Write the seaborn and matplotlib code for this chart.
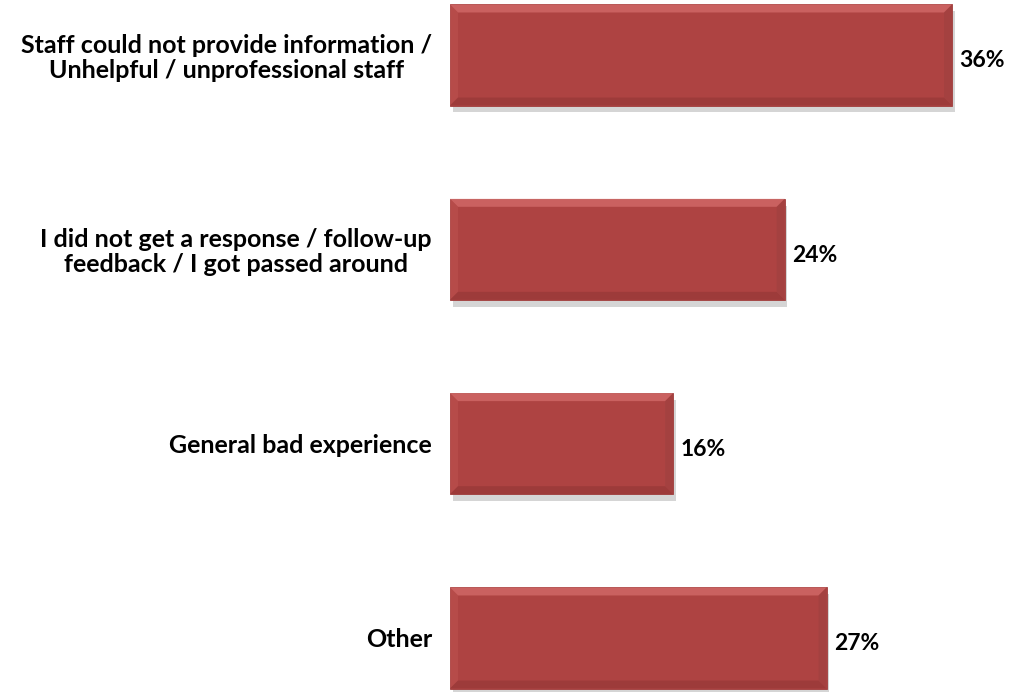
import matplotlib
matplotlib.use("Agg")
import matplotlib.pyplot as plt
import matplotlib.patheffects as pe
from matplotlib.patches import Polygon
import seaborn as sns
import pandas as pd

categories = [
    "Staff could not provide information /\nUnhelpful / unprofessional staff",
    "I did not get a response / follow-up\nfeedback / I got passed around",
    "General bad experience",
    "Other",
]
values = [36, 24, 16, 27]
value_labels = ["36%", "24%", "16%", "27%"]

df = pd.DataFrame({"category": categories, "value": values})

sns.set_theme(style="white")
plt.rcParams["font.family"] = ["Lato", "DejaVu Sans"]

fig = plt.figure(figsize=(10.18, 6.92), dpi=100)
ax = fig.add_axes([450 / 1018, 0.0, 1 - 450 / 1018, 1.0])

bar_color = "#AE4342"
sns.barplot(data=df, x="value", y="category", orient="h", color=bar_color,
            saturation=1, width=0.52, ax=ax, edgecolor="#A03D3C", linewidth=0.6)

ax.set_xlim(0, (1018 - 450) / (502 / 36))
ax.set_ylim(3.278, -0.283)

# bevelled edges and soft drop shadow
px_x = 36 / 502.0
px_y = 1 / 194.3
bx, by = 8 * px_x, 8 * px_y
for p in ax.patches:
    p.set_path_effects([pe.SimplePatchShadow(offset=(2, -5), shadow_rgbFace="#777777", alpha=0.3),
                        pe.Normal()])
    x0, y0 = p.get_x(), p.get_y()
    x1, y1 = x0 + p.get_width(), y0 + p.get_height()
    top = [(x0, y0), (x1, y0), (x1 - bx, y0 + by), (x0 + bx, y0 + by)]
    left = [(x0, y0), (x0 + bx, y0 + by), (x0 + bx, y1 - by), (x0, y1)]
    bottom = [(x0, y1), (x0 + bx, y1 - by), (x1 - bx, y1 - by), (x1, y1)]
    right = [(x1, y0), (x1, y1), (x1 - bx, y1 - by), (x1 - bx, y0 + by)]
    for pts, col, a in [(top, "#E27B79", 0.55), (left, "#C05553", 0.45),
                        (bottom, "#85302F", 0.4), (right, "#93403F", 0.35)]:
        ax.add_patch(Polygon(pts, closed=True, facecolor=col, edgecolor="none",
                             alpha=a, zorder=3))

for i, (v, lab) in enumerate(zip(values, value_labels)):
    ax.text(v + 0.55, i + 0.03, lab, ha="left", va="center",
            fontsize=16.5, fontweight="bold", color="black")

ax.set_xlabel("")
ax.set_ylabel("")
ax.set_xticks([])
ax.tick_params(axis="y", length=0, pad=13)
for t in ax.get_yticklabels():
    t.set_fontsize(18)
    t.set_fontweight("bold")
    t.set_color("black")
    t.set_multialignment("center")
    t.set_linespacing(1.1)
for s in ax.spines.values():
    s.set_visible(False)

fig.savefig("out.png", dpi=100)
